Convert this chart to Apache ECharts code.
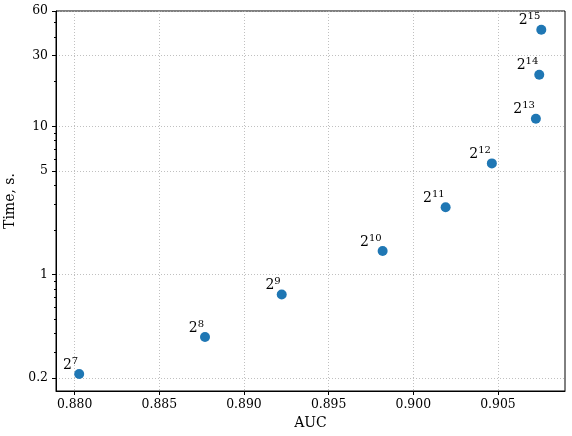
<!DOCTYPE html>
<html>
<head>
<meta charset="utf-8">
<script src="https://cdn.jsdelivr.net/npm/echarts@6/dist/echarts.min.js"></script>
<style>
  html, body { margin: 0; padding: 0; background: #fff; }
  #chart { width: 572px; height: 436px; }
</style>
</head>
<body>
<div id="chart"></div>
<script>
// hashing size exponents (2^k), AUC and run time
const exponents = [7, 8, 9, 10, 11, 12, 13, 14, 15];
const auc = [0.88027, 0.88770, 0.89223, 0.89819, 0.90191, 0.90464, 0.90724, 0.90744, 0.90756];
const timeSec = [0.213, 0.379, 0.733, 1.44, 2.84, 5.62, 11.25, 22.3, 44.8];

const xTicks = [0.880, 0.885, 0.890, 0.895, 0.900, 0.905];
const yTicks = [0.2, 1, 5, 10, 30, 60];
const yMinorTicks = [0.3, 0.4, 0.5, 0.6, 0.7, 0.8, 0.9, 2, 3, 4, 6, 7, 8, 9, 20, 40, 50];

const font = 'DejaVu Serif';

const chart = echarts.init(document.getElementById('chart'));

const points = auc.map((a, i) => ({
  value: [a, timeSec[i]],
  label: { formatter: '{b|2}{s|' + exponents[i] + '}' }
}));

chart.setOption({
  animation: false,
  grid: {
    left: 56, right: 7, top: 11, bottom: 45,
    outerBoundsMode: 'none',
    containLabel: false,
    show: true, borderColor: '#000', borderWidth: 1
  },
  xAxis: {
    type: 'value',
    min: 0.8789,
    max: 0.90896,
    name: 'AUC',
    nameLocation: 'middle',
    nameGap: 25,
    nameTextStyle: { fontFamily: font, fontSize: 14, color: '#000' },
    axisLine: { lineStyle: { color: '#000', width: 1 } },
    axisTick: { customValues: xTicks, length: 4, lineStyle: { color: '#000' } },
    axisLabel: {
      customValues: xTicks,
      formatter: v => v.toFixed(3),
      fontFamily: font, fontSize: 12.4, color: '#000', margin: 8
    },
    splitLine: { show: true, lineStyle: { color: '#b0b0b0', type: [1, 2], width: 0.8 } }
  },
  yAxis: [{
    type: 'log',
    min: 0.1636,
    max: 60,
    name: 'Time, s.',
    nameLocation: 'middle',
    nameGap: 37,
    nameTextStyle: { fontFamily: font, fontSize: 14, color: '#000' },
    axisLine: { show: true, lineStyle: { color: '#000', width: 1 } },
    axisTick: { show: true, customValues: yTicks, length: 4, lineStyle: { color: '#000' } },
    axisLabel: {
      customValues: yTicks,
      formatter: v => String(+v.toPrecision(3)),
      fontFamily: font, fontSize: 12.4, color: '#000', margin: 8
    },
    splitLine: { show: true, lineStyle: { color: '#b0b0b0', type: [1, 2], width: 0.8 } }
  }, {
    type: 'log',
    min: 0.1636,
    max: 60,
    position: 'left',
    axisLine: { show: false },
    axisTick: { show: true, customValues: yMinorTicks, length: 2, lineStyle: { color: '#000' } },
    axisLabel: { show: false },
    splitLine: { show: false }
  }],
  series: [{
    type: 'scatter',
    yAxisIndex: 0,
    symbolSize: 10,
    itemStyle: { color: '#1f77b4', opacity: 1 },
    data: points,
    label: {
      show: true,
      position: ['50%', '0%'],
      align: 'right',
      verticalAlign: 'bottom',
      offset: [-1, 3],
      rich: {
        b: { fontFamily: font, fontSize: 14, color: '#000', verticalAlign: 'bottom' },
        s: { fontFamily: font, fontSize: 10, color: '#000', verticalAlign: 'top', padding: [0, 0, 6, 0] }
      }
    }
  }]
});
</script>
</body>
</html>
